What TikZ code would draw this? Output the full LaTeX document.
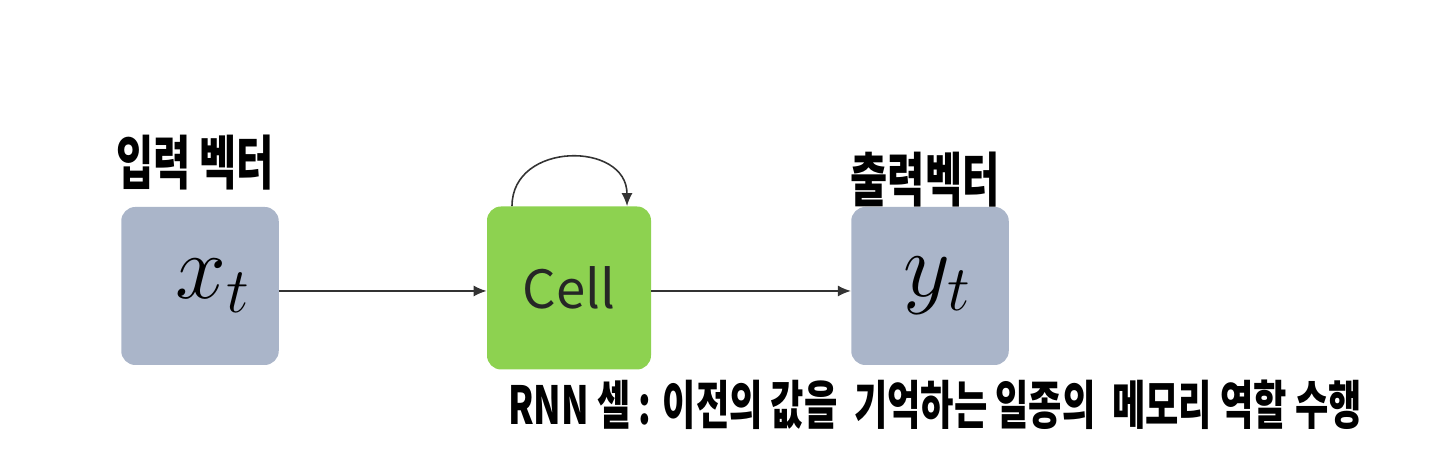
\documentclass[tikz,border=0pt]{standalone}
\usepackage{fix-cm}
\usepackage{graphicx}
\usepackage{fontspec}
\newfontfamily\kr{Noto Sans CJK KR}
\usetikzlibrary{arrows.meta,positioning}
\definecolor{vecblue}{RGB}{170,181,201}
\definecolor{cellgreen}{RGB}{141,210,80}
\newcommand{\tallhand}[1]{\scalebox{1}[1.45]{#1}}
\begin{document}
\begin{tikzpicture}[
  vec/.style={
    rectangle, rounded corners=8pt, fill=vecblue,
    minimum width=3.15cm, minimum height=3.16cm, inner sep=0pt,
    font=\fontsize{52}{52}\selectfont
  },
  rnncell/.style={
    rectangle, rounded corners=8pt, fill=cellgreen,
    minimum width=3.28cm, minimum height=3.26cm, inner sep=0pt,
    font=\kr\fontsize{30}{30}\selectfont, text=black!85
  },
  hand/.style={font=\kr\bfseries\fontsize{23}{23}\selectfont, inner sep=0pt},
  arrow/.style={-{Latex[length=2.6mm,width=2.2mm]}, black!80, line width=0.9pt},
]
\useasboundingbox (0,0) rectangle (28.8,9.16);

% Input, cell and output
\node[vec] (xt) at (4.0,3.44) {\hspace{0.5cm}$x_t$};
\node[rnncell] (cell) at (11.38,3.40) {Cell};
\node[vec] (yt) at (18.6,3.44) {\hspace{0.3cm}$y_t$};

% Connections
\draw[arrow] (xt.east) ++(0,-0.1) coordinate (xout) -- (xout -| cell.west);
\draw[arrow] (cell.east |- xout) -- (xout -| yt.west);
\draw[arrow] ([xshift=-1.14cm]cell.north) to[out=90, in=90, looseness=1.45]
  ([xshift=1.16cm]cell.north);

% Labels
\node[hand] (inlabel) at (3.9,5.9) {\tallhand{입력 벡터}};
\node[hand] (outlabel) at (18.5,5.56) {\tallhand{출력벡터}};
\node[hand, font=\kr\bfseries\fontsize{20.6}{20.6}\selectfont] (note) at (18.7,1.06)
  {\tallhand{RNN 셀 : 이전의 값을~ 기억하는 일종의~ 메모리 역할 수행}};

\end{tikzpicture}
\end{document}
